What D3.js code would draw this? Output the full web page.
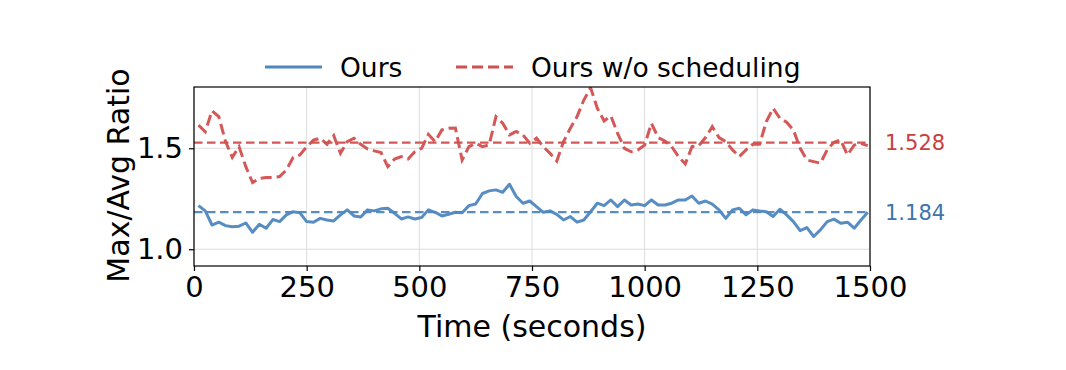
<!DOCTYPE html>
<html><head><meta charset="utf-8">
<script src="https://cdn.jsdelivr.net/npm/d3@7"></script>
<style>body{margin:0;background:#fff}svg{display:block;font-family:"DejaVu Sans",sans-serif}</style>
</head><body>
<svg id="c" width="1066" height="370"></svg>
<script>
// ---- data ----
const startTime = 10, stepTime = 15;
const oursValues = [1.216,1.190,1.120,1.134,1.117,1.111,1.114,1.130,1.084,1.124,1.104,1.147,1.137,1.170,1.186,1.180,
 1.137,1.134,1.153,1.145,1.140,1.170,1.195,1.165,1.160,1.195,1.190,1.200,1.203,1.178,1.150,1.160,1.150,
 1.157,1.195,1.183,1.165,1.173,1.183,1.181,1.216,1.224,1.276,1.289,1.294,1.282,1.322,1.261,1.228,1.239,
 1.211,1.183,1.190,1.173,1.145,1.162,1.134,1.145,1.186,1.228,1.216,1.244,1.211,1.244,1.219,1.224,1.216,
 1.244,1.219,1.219,1.228,1.244,1.244,1.264,1.228,1.239,1.223,1.195,1.153,1.195,1.203,1.170,1.195,
 1.190,1.186,1.162,1.198,1.170,1.137,1.092,1.107,1.063,1.096,1.137,1.149,1.129,1.134,1.104,1.145,1.183];
const noSchedValues = [1.615,1.582,1.686,1.657,1.533,1.455,1.508,1.409,1.330,1.351,1.355,1.356,1.360,1.393,1.454,1.467,
 1.508,1.540,1.550,1.520,1.563,1.475,1.533,1.550,1.520,1.497,1.487,1.479,1.409,1.447,1.459,1.447,1.483,
 1.500,1.569,1.533,1.591,1.599,1.600,1.442,1.508,1.525,1.508,1.517,1.657,1.624,1.566,1.583,1.566,1.525,
 1.550,1.508,1.475,1.437,1.533,1.599,1.657,1.739,1.800,1.698,1.635,1.660,1.574,1.500,1.483,1.492,1.516,
 1.624,1.553,1.536,1.508,1.459,1.422,1.508,1.513,1.553,1.607,1.553,1.533,1.492,1.459,1.492,1.520,
 1.520,1.632,1.698,1.649,1.629,1.591,1.500,1.442,1.434,1.426,1.492,1.530,1.541,1.467,1.516,1.523,1.513];
const seriesNames = ["Ours", "Ours w/o scheduling"];
const meanValues = [1.184, 1.528];
const xTicks = [0,250,500,750,1000,1250,1500];
const yTicks = [1.0, 1.5];
const xLabel = "Time (seconds)", yLabel = "Max/Avg Ratio";

// ---- layout ----
const colors = ["#4f87c0", "#d24f4f"];
const labelColors = ["#3c74b0", "#cc3d3d"];
const L = 194, R = 870, T = 87, B = 266;
const svg = d3.select("#c");
const x = d3.scaleLinear().domain([0,1500]).range([L,R]);
const y = d3.scaleLinear().domain([0.917,1.8035]).range([B,T]);

// grid
const g = svg.append("g");
g.selectAll(".gx").data(xTicks).join("line").attr("x1",d=>x(d)).attr("x2",d=>x(d)).attr("y1",T).attr("y2",B)
 .attr("stroke","#dcdcdc").attr("stroke-width",1);
g.selectAll(".gy").data(yTicks).join("line").attr("y1",d=>y(d)).attr("y2",d=>y(d)).attr("x1",L).attr("x2",R)
 .attr("stroke","#dcdcdc").attr("stroke-width",1);

svg.append("clipPath").attr("id","pc").append("rect").attr("x",L).attr("y",T).attr("width",R-L).attr("height",B-T);
const plot = svg.append("g").attr("clip-path","url(#pc)");

// mean lines
meanValues.forEach((m,i)=>{
  plot.append("line").attr("x1",L).attr("x2",R).attr("y1",y(m)).attr("y2",y(m))
   .attr("stroke",colors[i]).attr("stroke-width",2.2).attr("stroke-dasharray","8.5,4.5").attr("opacity",0.95);
});
const line = d3.line().x((d,i)=>x(startTime+i*stepTime)).y(d=>y(d));
plot.append("path").datum(oursValues).attr("d",line).attr("fill","none").attr("stroke",colors[0])
 .attr("stroke-width",3).attr("stroke-linejoin","round").attr("opacity",0.95);
plot.append("path").datum(noSchedValues).attr("d",line).attr("fill","none").attr("stroke",colors[1])
 .attr("stroke-width",3).attr("stroke-dasharray","11,5").attr("opacity",0.95);

// axes
const xa = svg.append("g").attr("transform",`translate(0,${B})`)
 .call(d3.axisBottom(x).tickValues(xTicks).tickFormat(d3.format("d")).tickSize(5).tickPadding(5));
const ya = svg.append("g").attr("transform",`translate(${L},0)`)
 .call(d3.axisLeft(y).tickValues(yTicks).tickFormat(d3.format(".1f")).tickSize(5).tickPadding(6));
[xa,ya].forEach(a=>{a.select(".domain").remove();a.selectAll("line").attr("stroke","#000").attr("stroke-width",1.2);
 a.selectAll("text").attr("font-size",29).attr("fill","#000").attr("font-family","DejaVu Sans");});
svg.append("rect").attr("x",L).attr("y",T).attr("width",R-L).attr("height",B-T).attr("fill","none").attr("stroke","#000").attr("stroke-width",1.2);

// mean labels
meanValues.forEach((m,i)=>{
  svg.append("text").attr("x",885).attr("y",y(m)).attr("dy","0.36em").attr("font-size",21)
   .attr("fill",labelColors[i]).text(d3.format(".3f")(m));
});

// axis labels
svg.append("text").attr("x",(L+R)/2).attr("y",337).attr("text-anchor","middle").attr("font-size",30).text(xLabel);
svg.append("text").attr("transform",`translate(129,${(T+B)/2 - 1}) rotate(-90)`).attr("text-anchor","middle").attr("font-size",30).text(yLabel);

// legend
const leg = svg.append("g");
const lx = [265, 456], ly = 67;
seriesNames.forEach((n,i)=>{
  leg.append("line").attr("x1",lx[i]).attr("x2",lx[i]+57).attr("y1",ly).attr("y2",ly).attr("stroke",colors[i]).attr("stroke-width",3)
   .attr("stroke-dasharray", i===1 ? "11,5" : null);
  leg.append("text").attr("x",lx[i]+75).attr("y",ly).attr("dy","0.36em").attr("font-size",26.5).text(n);
});
</script>
</body></html>
